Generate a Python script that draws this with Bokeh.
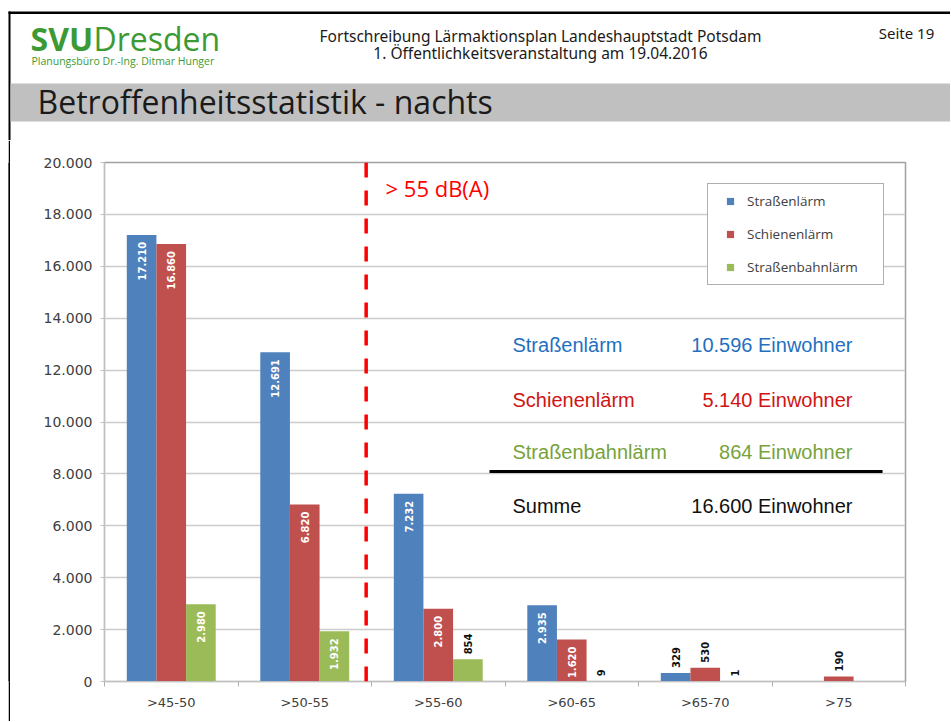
import math
from bokeh.plotting import figure
from bokeh.layouts import column, row
from bokeh.models import (Range1d, FixedTicker, CustomJSTickFormatter, Span, Legend,
                          LegendItem, ColumnDataSource, LinearAxis, Grid, Spacer)
from bokeh.core.properties import value
from bokeh.embed import file_html
from bokeh.resources import INLINE

# ---------------- data ----------------
categories = [">45-50", ">50-55", ">55-60", ">60-65", ">65-70", ">75"]
series_names = ["Straßenlärm", "Schienenlärm", "Straßenbahnlärm"]
strassen = [17210, 12691, 7232, 2935, 329, 0]
schiene = [16860, 6820, 2800, 1620, 530, 190]
tram = [2980, 1932, 854, 9, 1, 0]
y_ticks = list(range(0, 20001, 2000))
summary_labels = ["Straßenlärm", "Schienenlärm", "Straßenbahnlärm", "Summe"]
summary_values = [10596, 5140, 864, 16600]
threshold_label = "> 55 dB(A)"

header_line1 = "Fortschreibung Lärmaktionsplan Landeshauptstadt Potsdam"
header_line2 = "1. Öffentlichkeitsveranstaltung am 19.04.2016"
page_label = "Seite 19"
slide_title = "Betroffenheitsstatistik - nachts"
logo_bold = "SVU"
logo_light = "Dresden"
logo_sub = "Planungsbüro Dr.-Ing. Ditmar Hunger"

# ---------------- styles ----------------
bar_colors = ["#4f81bd", "#c0504d", "#9bbb59"]
summary_colors = ["#1f70c1", "#d01414", "#77a23c", "#111111"]
logo_green = "#3c9a34"


def de_fmt(v):
    return f"{v:,}".replace(",", ".")


W = 950          # total page width used
H = 721          # total page height used
HH = 140         # header height
CH = H - HH      # chart height
LW = 10          # left strip (white 8 + black 2)
CW = W - LW      # chart width

# ---------------- header (page pixel coordinates) ----------------
hdr = figure(width=W, height=HH, x_range=Range1d(0, W), y_range=Range1d(HH, 0),
             x_axis_type=None, y_axis_type=None, toolbar_location=None,
             output_backend="svg", min_border=0, outline_line_color=None)
hdr.quad(left=[8], right=[W], top=[11], bottom=[13.5], color="black", line_color=None)
hdr.quad(left=[8], right=[10], top=[11], bottom=[HH], color="black", line_color=None)
hdr.quad(left=[10], right=[W], top=[83], bottom=[121], color="#c0c0c0", line_color=None)

hdr.text(x=[30], y=[38], text=[logo_bold], text_font=value("Open Sans"),
         text_font_style="bold", text_font_size="32px", text_color=logo_green,
         text_baseline="middle")
hdr.text(x=[93], y=[38], text=[logo_light], text_font=value("Open Sans"),
         text_font_size="32px", text_color=logo_green, text_baseline="middle")
hdr.text(x=[31], y=[60], text=[logo_sub], text_font=value("Open Sans"),
         text_font_size="10.5px", text_color=logo_green, text_baseline="middle")
hdr.text(x=[540, 540], y=[35.5, 52.5], text=[header_line1, header_line2],
         text_font=value("Noto Sans"), text_font_size="15.5px", text_color="#1a1a1a",
         text_align="center", text_baseline="middle")
hdr.text(x=[906], y=[32.5], text=[page_label], text_font=value("Noto Sans"),
         text_font_size="15px", text_color="#1a1a1a", text_align="center",
         text_baseline="middle")
hdr.text(x=[37], y=[101], text=[slide_title], text_font=value("Open Sans"),
         text_font_size="32px", text_color="#1a1a1a", text_baseline="middle")

# ---------------- left strip: white margin + black border line ----------------
gap = Spacer(width=8, height=CH)
strip = figure(width=LW - 8, height=CH, x_range=Range1d(0, 1), y_range=Range1d(0, 1),
               x_axis_type=None, y_axis_type=None, toolbar_location=None,
               output_backend="svg", min_border=0, outline_line_color=None,
               background_fill_color="black", border_fill_color="black")
strip.quad(left=[0], right=[1], top=[1], bottom=[0], color="black", line_color=None)

# ---------------- chart ----------------
ncat = len(categories)
p = figure(width=CW, height=CH, x_range=Range1d(0, ncat), y_range=Range1d(0, y_ticks[-1]),
           toolbar_location=None, output_backend="svg",
           min_border_left=94, min_border_right=45, min_border_top=22, min_border_bottom=40,
           x_axis_type=None, y_axis_type=None)
p.outline_line_color = "#a0a0a0"
p.outline_line_width = 1.5

yaxis = LinearAxis(ticker=FixedTicker(ticks=y_ticks),
                   formatter=CustomJSTickFormatter(
                       code="return String(Math.round(tick)).replace(/\\B(?=(\\d{3})+(?!\\d))/g, '.');"))
yaxis.axis_line_color = "#c0c0c0"
yaxis.major_tick_in = 0
yaxis.major_tick_out = 4
yaxis.major_tick_line_color = "#c0c0c0"
yaxis.minor_tick_line_color = None
yaxis.major_label_standoff = 8
yaxis.major_label_text_font = "DejaVu Sans"
yaxis.major_label_text_font_size = "14px"
yaxis.major_label_text_color = "#404040"
p.add_layout(yaxis, "left")

x_centers = [i + 0.5 for i in range(ncat)]
xaxis = LinearAxis(ticker=FixedTicker(ticks=x_centers, minor_ticks=list(range(ncat + 1))),
                   formatter=CustomJSTickFormatter(args=dict(labels=categories),
                                                   code="return labels[Math.floor(tick)];"))
xaxis.axis_line_color = "#c0c0c0"
xaxis.major_tick_line_color = None
xaxis.major_tick_out = 0
xaxis.major_tick_in = 0
xaxis.minor_tick_in = 0
xaxis.minor_tick_out = 5
xaxis.minor_tick_line_color = "#b0b0b0"
xaxis.major_label_standoff = 8
xaxis.major_label_text_font = "DejaVu Sans"
xaxis.major_label_text_font_size = "13px"
xaxis.major_label_text_color = "#404040"
p.add_layout(xaxis, "below")

p.add_layout(Grid(dimension=1, ticker=yaxis.ticker, grid_line_color="#cccccc",
                  grid_line_width=1.5))

bw = 0.222
offsets = [-bw, 0, bw]
all_series = [strassen, schiene, tram]
legend_items = []
for name, vals, color, off in zip(series_names, all_series, bar_colors, offsets):
    xs = [c + off for c in x_centers]
    src = ColumnDataSource(dict(x=xs, top=vals))
    p.vbar(x="x", top="top", width=bw, source=src, fill_color=color, line_color=None)
    in_x = [x for x, v in zip(xs, vals) if v >= 1000]
    in_y = [v for v in vals if v >= 1000]
    out_x = [x for x, v in zip(xs, vals) if 0 < v < 1000]
    out_y = [v for v in vals if 0 < v < 1000]
    p.text(x=in_x, y=in_y, text=[de_fmt(v) for v in in_y], angle=math.pi / 2,
           text_align="right", text_baseline="middle", y_offset=7,
           text_font=value("DejaVu Sans"), text_font_style="bold",
           text_font_size="10px", text_color="white")
    p.text(x=out_x, y=out_y, text=[de_fmt(v) for v in out_y], angle=math.pi / 2,
           text_align="left", text_baseline="middle", y_offset=-5,
           text_font=value("DejaVu Sans"), text_font_style="bold",
           text_font_size="10px", text_color="#111111")
    # size-0 markers: invisible in the plot, used only as the legend swatch
    lsrc = ColumnDataSource(dict(x=xs, y=vals))
    lr = p.scatter(x="x", y="y", source=lsrc, marker="square", size=0,
                   fill_color=color, line_color=None)
    legend_items.append(LegendItem(label=name, renderers=[lr]))

legend = Legend(items=legend_items, location="top_right", margin=21, padding=7,
                spacing=13, glyph_width=30, glyph_height=18, label_height=20,
                label_width=129, label_standoff=2, border_line_color="#606060",
                border_line_width=1.5, background_fill_color="white",
                background_fill_alpha=1.0, label_text_font="Open Sans",
                label_text_font_size="13.5px", label_text_color="#404040")
p.add_layout(legend)

# threshold line and label
p.add_layout(Span(location=1.96, dimension="height", line_color="#ff0000",
                  line_width=3.5, line_dash="15 13"))
p.text(x=[2.105], y=[19017], text=[threshold_label], text_font=value("Open Sans"),
       text_font_size="22px", text_color="#ff0000", text_baseline="middle")

# summary table
row_y = [12948, 10867, 8825, 6782]
p.text(x=[3.056] * 4, y=row_y, text=summary_labels, text_color=summary_colors,
       text_font=value("Liberation Sans"), text_font_size="20px",
       text_baseline="middle")
p.text(x=[5.603] * 4, y=row_y, text=[de_fmt(v) + " Einwohner" for v in summary_values],
       text_color=summary_colors, text_font=value("Liberation Sans"),
       text_font_size="20px", text_align="right", text_baseline="middle")
p.segment(x0=[2.884], x1=[5.828], y0=[8092], y1=[8092], line_color="black", line_width=3)

layout = column(hdr, row(gap, strip, p))
open("out.html", "w").write(file_html(layout, INLINE))
